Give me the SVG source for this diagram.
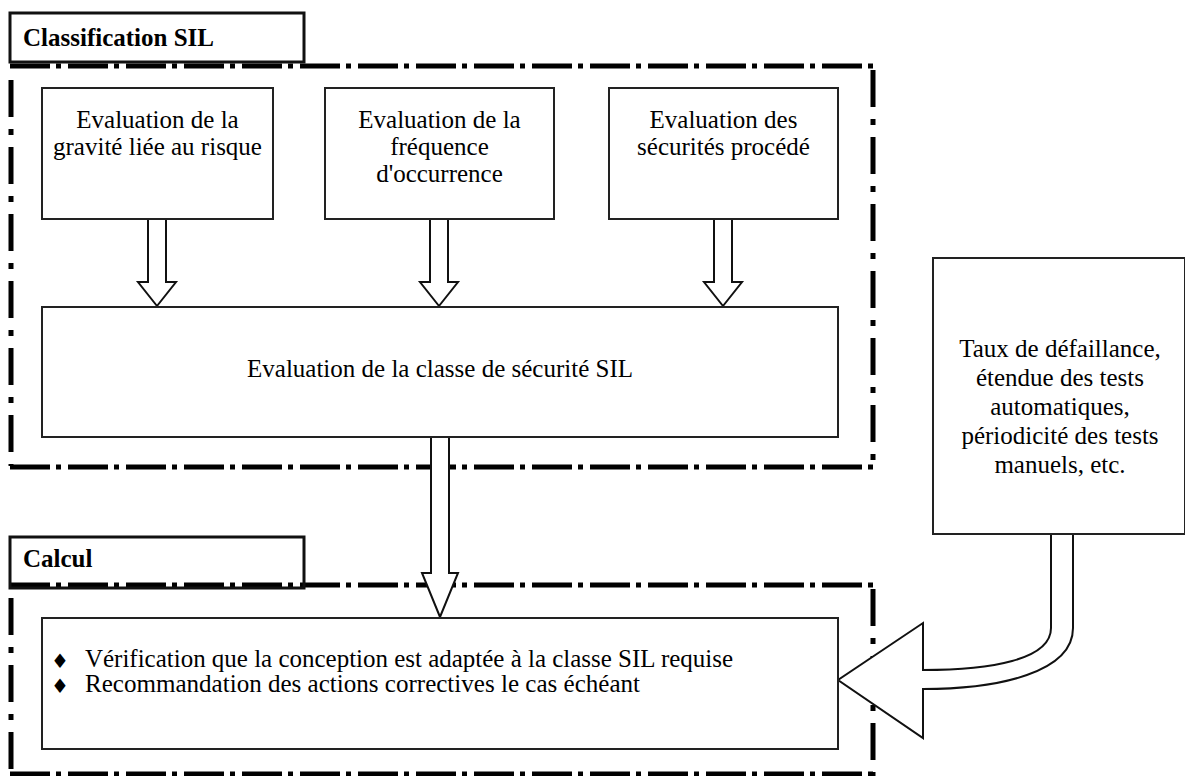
<svg xmlns="http://www.w3.org/2000/svg" width="1185" height="776" viewBox="0 0 1185 776">
  <style>
    .bg { fill: #ffffff; }
    .hline { fill: none; stroke: #000; stroke-width: 5; stroke-dasharray: 40 6 5 7; }
    .vline { fill: none; stroke: #000; stroke-width: 5; stroke-dasharray: 37 12 6 12; }
    .title { fill: none; stroke: #111; stroke-width: 3; }
    .box { fill: #fff; stroke: #222; stroke-width: 2; }
    .arrow { fill: #fff; stroke: #111; stroke-width: 2; stroke-linejoin: miter; }
    .t { font-family: "Liberation Serif", "Times New Roman", serif; font-size: 25px; fill: #000; }
    .c { text-anchor: middle; }
    .b { font-weight: bold; }
    .bullet { font-family: "DejaVu Sans", sans-serif; font-size: 20px; fill: #000; text-anchor: middle; }
  </style>

  <rect class="bg" x="0" y="0" width="1185" height="776"/>

  <!-- dash-dot group frames -->
  <g id="frame-classification">
    <line class="hline" x1="10" y1="66" x2="876" y2="66"/>
    <line class="vline" x1="873" y1="70" x2="873" y2="466"/>
    <line class="hline" x1="10" y1="467" x2="876" y2="467"/>
    <line class="vline" x1="11" y1="80" x2="11" y2="466"/>
  </g>
  <g id="frame-calcul">
    <line class="hline" x1="10" y1="585" x2="876" y2="585"/>
    <line class="vline" x1="873" y1="589" x2="873" y2="776"/>
    <line class="hline" x1="10" y1="774" x2="876" y2="774"/>
    <line class="vline" x1="11" y1="598" x2="11" y2="776"/>
  </g>

  <!-- connectors: hollow block arrows -->
  <g id="connectors">
    <path class="arrow" d="M148,219 V282 H138 L157,306 L176,282 H166 V219 Z"/>
    <path class="arrow" d="M430,219 V282 H420 L439,306 L458,282 H448 V219 Z"/>
    <path class="arrow" d="M714,219 V282 H704 L723,306 L742,282 H732 V219 Z"/>
    <path class="arrow" d="M431,437 V573 H422 L440,617 L458,573 H449 V437 Z"/>
    <path class="arrow" d="M1051,534 V628 C1051,660 990,670 923,670 V623 L838,680 L923,738 V689 C1000,689 1073,672 1073,628 V534 Z"/>
  </g>

  <!-- group titles -->
  <g id="title-classification">
    <rect class="title" x="10" y="13" width="294" height="49"/>
    <text class="t b" x="23" y="46">Classification SIL</text>
  </g>
  <g id="title-calcul">
    <rect class="title" x="10" y="537" width="294" height="51"/>
    <text class="t b" x="23" y="567">Calcul</text>
  </g>

  <!-- nodes -->
  <g id="node-gravite">
    <rect class="box" x="42" y="88" width="231" height="131"/>
    <text class="t c" x="157.5" y="128">Evaluation de la</text>
    <text class="t c" x="157.5" y="155">gravité liée au risque</text>
  </g>
  <g id="node-frequence">
    <rect class="box" x="325" y="88" width="229" height="131"/>
    <text class="t c" x="439.5" y="128">Evaluation de la</text>
    <text class="t c" x="439.5" y="155">fréquence</text>
    <text class="t c" x="439.5" y="182">d'occurrence</text>
  </g>
  <g id="node-securites">
    <rect class="box" x="609" y="88" width="229" height="131"/>
    <text class="t c" x="723.5" y="128">Evaluation des</text>
    <text class="t c" x="723.5" y="155">sécurités procédé</text>
  </g>
  <g id="node-classe-sil">
    <rect class="box" x="42" y="307" width="796" height="130"/>
    <text class="t c" x="440" y="377">Evaluation de la classe de sécurité SIL</text>
  </g>
  <g id="node-donnees">
    <rect class="box" x="933" y="258" width="252" height="276"/>
    <text class="t c" x="1060" y="357">Taux de défaillance,</text>
    <text class="t c" x="1060" y="386">étendue des tests</text>
    <text class="t c" x="1060" y="415">automatiques,</text>
    <text class="t c" x="1060" y="444">périodicité des tests</text>
    <text class="t c" x="1060" y="473">manuels, etc.</text>
  </g>
  <g id="node-verification">
    <rect class="box" x="42" y="618" width="796" height="131"/>
    <text class="bullet" x="60" y="668">♦</text>
    <text class="t" x="85" y="667" textLength="648" lengthAdjust="spacingAndGlyphs">Vérification que la conception est adaptée à la classe SIL requise</text>
    <text class="bullet" x="60" y="693">♦</text>
    <text class="t" x="85" y="692" textLength="555" lengthAdjust="spacingAndGlyphs">Recommandation des actions correctives le cas échéant</text>
  </g>
</svg>
